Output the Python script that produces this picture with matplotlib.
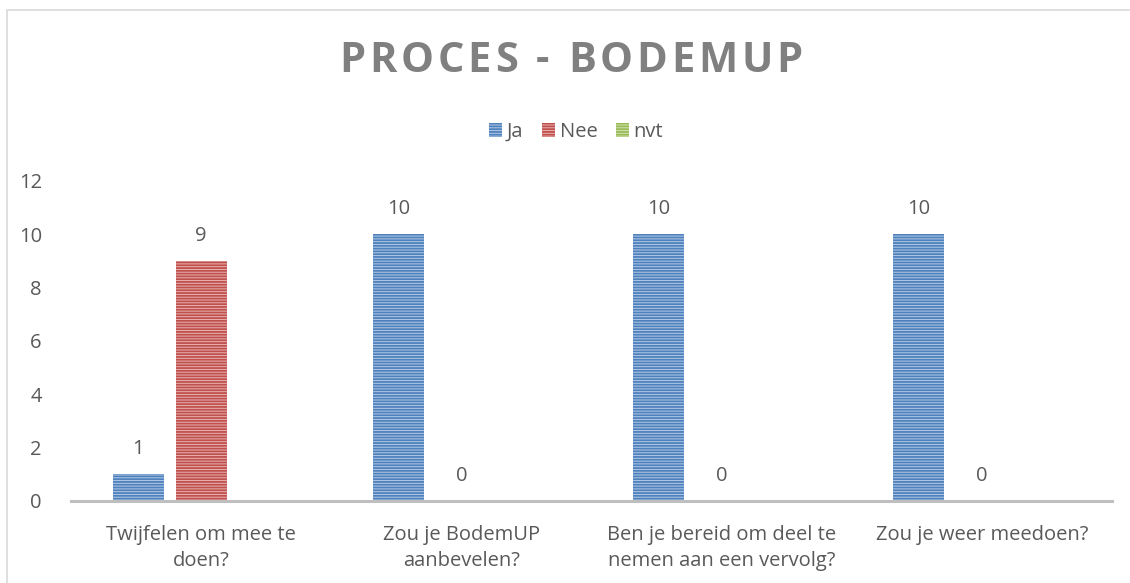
import matplotlib
matplotlib.use("Agg")
import matplotlib.pyplot as plt
import numpy as np
from matplotlib.patches import Rectangle, Patch
from matplotlib.font_manager import FontProperties

plt.rcParams['font.family'] = ['Open Sans', 'DejaVu Sans']
plt.rcParams['hatch.linewidth'] = 1.3

categories = ["Twijfelen om mee te\ndoen?", "Zou je BodemUP\naanbevelen?",
              "Ben je bereid om deel te\nnemen aan een vervolg?", "Zou je weer meedoen?"]
series_names = ["Ja", "Nee", "nvt"]
ja = [1, 10, 10, 10]
nee = [9, 0, 0, 0]
nvt = [np.nan, np.nan, np.nan, np.nan]
yticks = [0, 2, 4, 6, 8, 10, 12]
title = "PROCES - BODEMUP"

face = ["#B3CAE6", "#E8B3B2", "#D3E2B3"]
edge = ["#4F81BD", "#C0504D", "#9BBB59"]
txt = "#595959"
FS = 14.5

W, H = 1130, 583
fig = plt.figure(figsize=(W / 100, H / 100), dpi=100)
ax = fig.add_axes([71 / W, (583 - 501) / H, (1112 - 71) / W, (501 - 181) / H])

x = np.arange(len(categories))
bw = 0.196
offs = [-0.242, 0.0, 0.242]
for i, vals in enumerate([ja, nee, nvt]):
    v = np.array(vals, dtype=float)
    ax.bar(x + offs[i], np.nan_to_num(v), width=bw, color=face[i], edgecolor=edge[i],
           hatch='------', linewidth=0)
    for xi, vi in zip(x, v):
        if not np.isnan(vi):
            ax.annotate(f"{int(vi)}", (xi + offs[i], vi), xytext=(0, 11),
                        textcoords='offset points', ha='center', va='bottom',
                        fontsize=FS, color=txt)

ax.set_ylim(0, 12)
ax.set_xlim(-0.5, len(categories) - 0.5)
ax.set_yticks(yticks)
ax.set_yticklabels([str(t) for t in yticks], fontsize=FS, color=txt)
ax.set_xticks(x)
ax.set_xticklabels(categories, fontsize=FS, color=txt, linespacing=1.45)
ax.tick_params(axis='both', length=0)
ax.tick_params(axis='y', pad=21)
ax.tick_params(axis='x', pad=17)
for s in ['top', 'right', 'left']:
    ax.spines[s].set_visible(False)
ax.spines['bottom'].set_color('#BFBFBF')
ax.spines['bottom'].set_linewidth(2.2)

handles = [Patch(facecolor=face[i], edgecolor=edge[i], hatch='------', linewidth=0)
           for i in range(3)]
fig.legend(handles, series_names, loc='center', bbox_to_anchor=(576 / W, 1 - 132 / H),
           ncol=3, frameon=False, fontsize=FS, labelcolor=txt, handlelength=0.65,
           handleheight=0.75, handletextpad=0.25, columnspacing=0.9)

# title with letter spacing
fig.canvas.draw()
renderer = fig.canvas.get_renderer()
fs = 30
spacing = 3.8
fp = FontProperties(family=['Open Sans', 'DejaVu Sans'], weight='bold', size=fs)
widths = []
for ch in title:
    if ch == ' ':
        w = renderer.points_to_pixels(fs) * 0.26
    else:
        t = fig.text(0, 0, ch, fontproperties=fp)
        w = t.get_window_extent(renderer).width
        t.remove()
    widths.append(w)
total = sum(widths) + spacing * (len(title) - 1)
cx = 571
xpos = cx - total / 2
for ch, w in zip(title, widths):
    if ch != ' ':
        fig.text(xpos / W, 1 - 61 / H, ch, fontproperties=fp, color='#808080',
                 ha='left', va='center')
    xpos += w + spacing

fig.patches.append(Rectangle((7 / W, -0.1), 1.2, 1 - 10 / H + 0.1, transform=fig.transFigure,
                             fill=False, edgecolor='#D9D9D9', linewidth=1.2))

fig.savefig("out.png", dpi=100)
